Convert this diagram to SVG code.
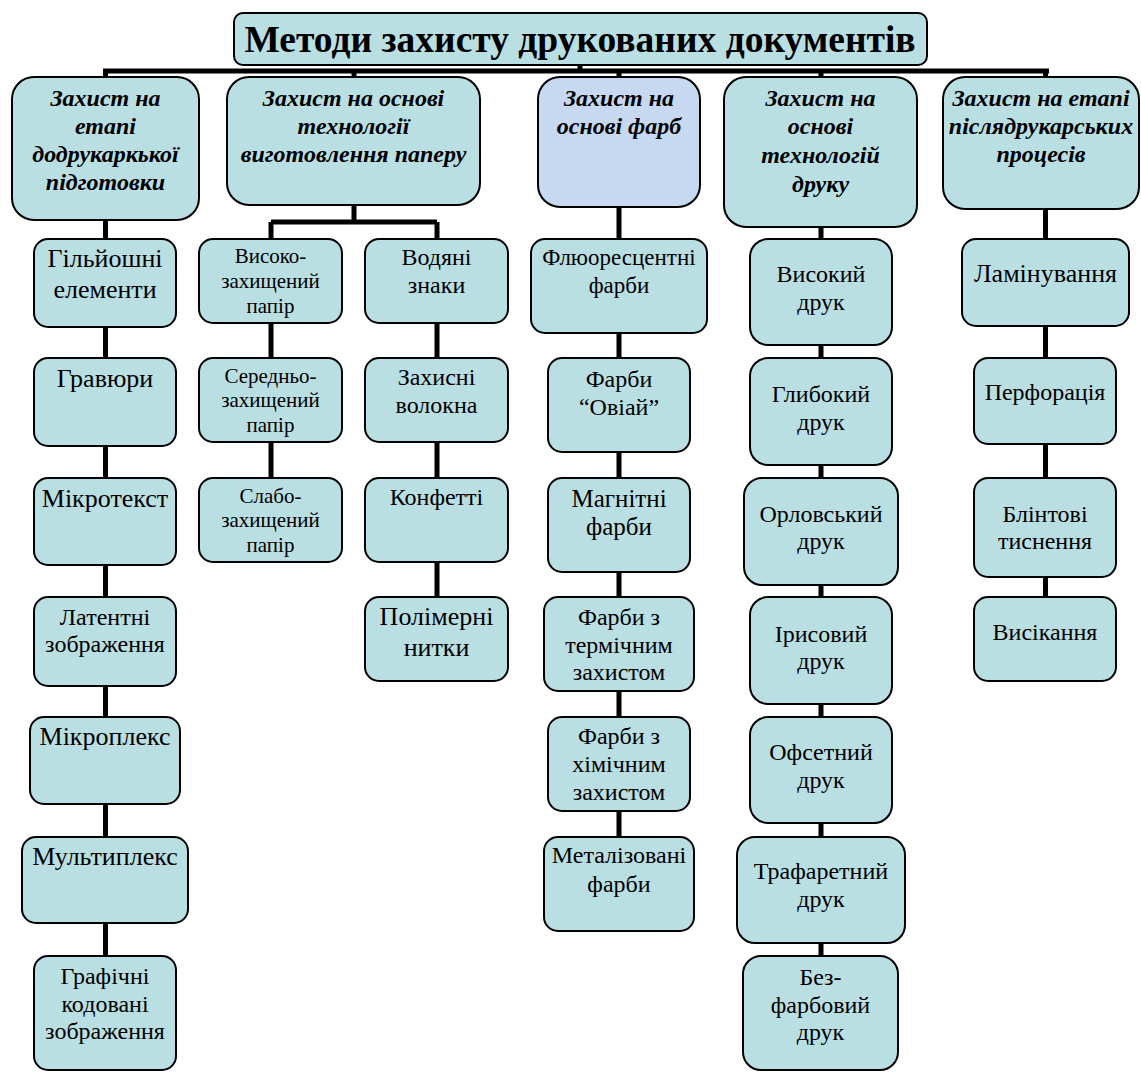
<svg xmlns="http://www.w3.org/2000/svg" width="1141" height="1072" viewBox="0 0 1141 1072">
<style>
.box{fill:#badfe3;stroke:#000;stroke-width:2}
.lav{fill:#c6d9f0}
text{font-family:"Liberation Serif","Times New Roman","DejaVu Serif",serif;text-anchor:middle;fill:#000}
.h{font-weight:bold;font-style:italic;font-size:24px}
.ttl{font-weight:bold;font-size:37.5px}
.s26{font-size:26px}.s25{font-size:25px}.s24{font-size:24px}.s23{font-size:23px}.s21{font-size:21px}
.cn{fill:none;stroke:#000;stroke-width:5}
</style>
<rect width="1141" height="1072" fill="#fff"/>
<g id="connectors">
<path class="cn" d="M580 64V71M103 71H1049M105.5 71V956M354 71V222M271 222H437M271 222V478M437 222V597M619 71V837M821 71V956M1045.5 71V597"/>
</g>
<g font-family="Liberation Serif, DejaVu Serif, serif">
<g id="title"><rect class="box" x="234" y="13" width="693" height="52" rx="9"/><text class="ttl" x="580" y="52">Методи захисту друкованих документів</text></g>
<g id="b1"><rect class="box" x="12" y="77" width="187" height="143" rx="22"/><text class="h"><tspan x="105.5" y="106">Захист на</tspan><tspan x="105.5" y="134">етапі</tspan><tspan x="105.5" y="162">додрукаркької</tspan><tspan x="105.5" y="190">підготовки</tspan></text></g>
<g id="b2"><rect class="box" x="227" y="77" width="253" height="128" rx="22"/><text class="h"><tspan x="353.5" y="106">Захист на основі</tspan><tspan x="353.5" y="134">технології</tspan><tspan x="353.5" y="162">виготовлення паперу</tspan></text></g>
<g id="b3"><rect class="box lav" x="538" y="77" width="162" height="130" rx="22"/><text class="h"><tspan x="619" y="106">Захист на</tspan><tspan x="619" y="134">основі фарб</tspan></text></g>
<g id="b4"><rect class="box" x="724" y="77" width="193" height="150" rx="22"/><text class="h"><tspan x="820.5" y="106">Захист на</tspan><tspan x="820.5" y="134">основі</tspan><tspan x="820.5" y="163">технологій</tspan><tspan x="820.5" y="192">друку</tspan></text></g>
<g id="b5"><rect class="box" x="943" y="77" width="196" height="132" rx="22"/><text class="h"><tspan x="1041" y="106">Захист на етапі</tspan><tspan x="1041" y="134">післядрукарських</tspan><tspan x="1041" y="162">процесів</tspan></text></g>

<g id="c1a"><rect class="box" x="34" y="239" width="142" height="88" rx="14"/><text class="s26"><tspan x="105" y="267">Гільйошні</tspan><tspan x="105" y="298">елементи</tspan></text></g>
<g id="c1b"><rect class="box" x="34" y="358" width="142" height="88" rx="14"/><text class="s26" x="105" y="387">Гравюри</text></g>
<g id="c1c"><rect class="box" x="34" y="478" width="142" height="87" rx="14"/><text class="s26" x="105" y="507">Мікротекст</text></g>
<g id="c1d"><rect class="box" x="34" y="597" width="142" height="89" rx="14"/><text class="s24"><tspan x="105" y="625">Латентні</tspan><tspan x="105" y="652">зображення</tspan></text></g>
<g id="c1e"><rect class="box" x="30" y="717" width="150" height="87" rx="14"/><text class="s26" x="105" y="745">Мікроплекс</text></g>
<g id="c1f"><rect class="box" x="22" y="837" width="166" height="86" rx="14"/><text class="s26" x="105" y="865">Мультиплекс</text></g>
<g id="c1g"><rect class="box" x="34" y="956" width="142" height="114" rx="14"/><text class="s24"><tspan x="105" y="984">Графічні</tspan><tspan x="105" y="1012">кодовані</tspan><tspan x="105" y="1039">зображення</tspan></text></g>

<g id="c2a"><rect class="box" x="199" y="239" width="143" height="84" rx="14"/><text class="s21"><tspan x="270.5" y="263">Високо-</tspan><tspan x="270.5" y="288">захищений</tspan><tspan x="270.5" y="313">папір</tspan></text></g>
<g id="c2b"><rect class="box" x="199" y="358" width="143" height="84" rx="14"/><text class="s21"><tspan x="270.5" y="383">Середньо-</tspan><tspan x="270.5" y="407">захищений</tspan><tspan x="270.5" y="432">папір</tspan></text></g>
<g id="c2c"><rect class="box" x="199" y="478" width="143" height="84" rx="14"/><text class="s21"><tspan x="270.5" y="503">Слабо-</tspan><tspan x="270.5" y="527">захищений</tspan><tspan x="270.5" y="552">папір</tspan></text></g>
<g id="c2d"><rect class="box" x="365" y="239" width="143" height="84" rx="14"/><text class="s24"><tspan x="436.5" y="265">Водяні</tspan><tspan x="436.5" y="293">знаки</tspan></text></g>
<g id="c2e"><rect class="box" x="365" y="358" width="143" height="84" rx="14"/><text class="s24"><tspan x="436.5" y="385">Захисні</tspan><tspan x="436.5" y="413">волокна</tspan></text></g>
<g id="c2f"><rect class="box" x="365" y="478" width="143" height="84" rx="14"/><text class="s24" x="436.5" y="505">Конфетті</text></g>
<g id="c2g"><rect class="box" x="365" y="597" width="143" height="84" rx="14"/><text class="s26"><tspan x="436.5" y="625">Полімерні</tspan><tspan x="436.5" y="656">нитки</tspan></text></g>

<g id="c3a"><rect class="box" x="531" y="239" width="176" height="94" rx="14"/><text class="s23"><tspan x="619" y="265">Флюоресцентні</tspan><tspan x="619" y="293">фарби</tspan></text></g>
<g id="c3b"><rect class="box" x="548" y="358" width="142" height="94" rx="14"/><text class="s24"><tspan x="619" y="387">Фарби</tspan><tspan x="619" y="415">“Овіай”</tspan></text></g>
<g id="c3c"><rect class="box" x="548" y="478" width="142" height="94" rx="14"/><text class="s25"><tspan x="619" y="507">Магнітні</tspan><tspan x="619" y="535">фарби</tspan></text></g>
<g id="c3d"><rect class="box" x="544" y="597" width="150" height="94" rx="14"/><text class="s24"><tspan x="619" y="625">Фарби з</tspan><tspan x="619" y="653">термічним</tspan><tspan x="619" y="680">захистом</tspan></text></g>
<g id="c3e"><rect class="box" x="548" y="717" width="142" height="94" rx="14"/><text class="s24"><tspan x="619" y="744">Фарби з</tspan><tspan x="619" y="772">хімічним</tspan><tspan x="619" y="800">захистом</tspan></text></g>
<g id="c3f"><rect class="box" x="544" y="837" width="150" height="94" rx="14"/><text class="s24"><tspan x="619" y="863">Металізовані</tspan><tspan x="619" y="892">фарби</tspan></text></g>

<g id="c4a"><rect class="box" x="750" y="239" width="142" height="106" rx="18"/><text class="s24"><tspan x="821" y="282">Високий</tspan><tspan x="821" y="310">друк</tspan></text></g>
<g id="c4b"><rect class="box" x="750" y="358" width="142" height="107" rx="18"/><text class="s24"><tspan x="821" y="402">Глибокий</tspan><tspan x="821" y="430">друк</tspan></text></g>
<g id="c4c"><rect class="box" x="744" y="478" width="154" height="107" rx="18"/><text class="s24"><tspan x="821" y="522">Орловський</tspan><tspan x="821" y="549">друк</tspan></text></g>
<g id="c4d"><rect class="box" x="750" y="597" width="142" height="107" rx="18"/><text class="s24"><tspan x="821" y="642">Ірисовий</tspan><tspan x="821" y="669">друк</tspan></text></g>
<g id="c4e"><rect class="box" x="750" y="717" width="142" height="106" rx="18"/><text class="s24"><tspan x="821" y="760">Офсетний</tspan><tspan x="821" y="788">друк</tspan></text></g>
<g id="c4f"><rect class="box" x="737" y="837" width="168" height="106" rx="18"/><text class="s24"><tspan x="821" y="879">Трафаретний</tspan><tspan x="821" y="907">друк</tspan></text></g>
<g id="c4g"><rect class="box" x="743" y="956" width="155" height="114" rx="18"/><text class="s24"><tspan x="820.5" y="985">Без-</tspan><tspan x="820.5" y="1013">фарбовий</tspan><tspan x="820.5" y="1040">друк</tspan></text></g>

<g id="c5a"><rect class="box" x="962" y="239" width="167" height="87" rx="14"/><text class="s26" x="1045.5" y="282">Ламінування</text></g>
<g id="c5b"><rect class="box" x="974" y="358" width="142" height="86" rx="14"/><text class="s24" x="1045" y="400">Перфорація</text></g>
<g id="c5c"><rect class="box" x="974" y="478" width="142" height="99" rx="14"/><text class="s24"><tspan x="1045" y="522">Блінтові</tspan><tspan x="1045" y="549">тиснення</tspan></text></g>
<g id="c5d"><rect class="box" x="974" y="597" width="142" height="84" rx="14"/><text class="s24" x="1045" y="640">Висікання</text></g>
</g>
</svg>
